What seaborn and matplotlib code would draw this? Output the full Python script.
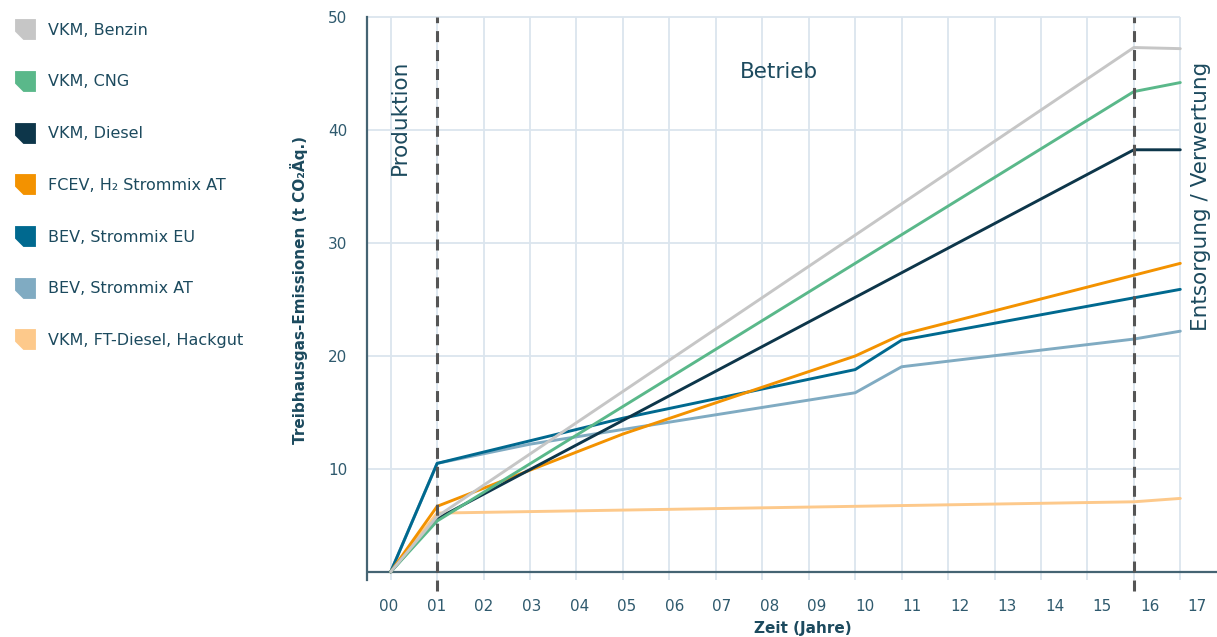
import pandas as pd
import numpy as np
import matplotlib
matplotlib.use("Agg")
import matplotlib.pyplot as plt
from matplotlib.lines import Line2D
import seaborn as sns

# series (legend order) and colours
names = ["VKM, Benzin", "VKM, CNG", "VKM, Diesel", "FCEV, H\u2082 Strommix AT",
         "BEV, Strommix EU", "BEV, Strommix AT", "VKM, FT-Diesel, Hackgut"]
colors = ["#c6c6c6", "#5ab88a", "#0d364a", "#f39200", "#00698f", "#80abc2", "#fdc98b"]

# break points (years, t CO2-eq.)
benzin_x = [0, 1, 16, 17]
benzin_y = [0.9, 5.8, 47.3, 47.2]
cng_x = [0, 1, 16, 17]
cng_y = [0.9, 5.4, 43.4, 44.2]
diesel_x = [0, 1, 16, 17]
diesel_y = [0.9, 5.6, 38.25, 38.25]
fcev_x = [0, 1, 5, 10, 11, 17]
fcev_y = [0.9, 6.7, 13.1, 20.0, 21.9, 28.2]
bev_eu_x = [0, 1, 5, 10, 11, 17]
bev_eu_y = [0.9, 10.5, 14.5, 18.8, 21.4, 25.9]
bev_at_x = [0, 1, 3, 10, 11, 16, 17]
bev_at_y = [0.9, 10.5, 12.2, 16.75, 19.05, 21.5, 22.2]
ft_x = [0, 1, 16, 17]
ft_y = [0.9, 6.1, 7.1, 7.4]

years = list(range(18))
year_labels = ["%02d" % y for y in years]
y_ticks = [10, 20, 30, 40, 50]

xs = [benzin_x, cng_x, diesel_x, fcev_x, bev_eu_x, bev_at_x, ft_x]
ys = [benzin_y, cng_y, diesel_y, fcev_y, bev_eu_y, bev_at_y, ft_y]
frames = []
for n, x, y in zip(names, xs, ys):
    frames.append(pd.DataFrame({"serie": n, "jahr": x, "wert": y}))
df = pd.concat(frames, ignore_index=True)

sns.set_style("white")
plt.rcParams["font.family"] = ["DejaVu Sans"]

txt_c = "#1c4a5e"
tick_c = "#2f5a6e"
grid_c = "#dbe5ee"
spine_c = "#456473"

fig = plt.figure(figsize=(12.17, 6.37), dpi=100)
ax = fig.add_axes([367/1217, 57/637, 850/1217, 563/637])

# grid first
ax.set_xlim(-0.51, 17.79)
ax.set_ylim(0.18, 50)
ax.set_xticks(years)
ax.set_xticklabels([])
ax.grid(axis="x", color=grid_c, lw=1.3, zorder=0)
ax.hlines(y_ticks, -0.51, 17, color=grid_c, lw=1.3, zorder=0, clip_on=False)

sns.lineplot(data=df, x="jahr", y="wert", hue="serie", hue_order=names[::-1],
             palette=dict(zip(names, colors)), estimator=None, sort=False,
             linewidth=2.1, legend=False, ax=ax, zorder=3)

# phase separators
for xv in [1, 16]:
    ax.axvline(xv, ymin=-0.02, color="#555555", lw=2.2, ls=(0, (3.6, 2.6)), zorder=4, clip_on=False)

ax.axhline(0.9, color=spine_c, lw=1.6, zorder=2)
for s in ["top", "right", "bottom"]:
    ax.spines[s].set_visible(False)
ax.spines["left"].set_color(spine_c)
ax.spines["left"].set_linewidth(1.6)

ax.set_yticks(y_ticks)
ax.set_yticklabels([str(v) for v in y_ticks])
ax.tick_params(axis="y", colors=grid_c, length=9, width=1.3, pad=5, labelsize=11, labelcolor=tick_c)
ax.tick_params(axis="x", which="major", length=0)

# tick labels sit a bit wider apart than the grid in the original
label_pos = [(389 + 47.6 * k - 390.7) / 46.5 for k in years]
ax.set_xticks(label_pos, minor=True)
ax.set_xticklabels(year_labels, minor=True)
ax.tick_params(axis="x", which="minor", length=0, pad=14, labelsize=11, labelcolor=tick_c)

ax.set_xlabel("Zeit (Jahre)", fontsize=11, fontweight="bold", color=txt_c)
ax.xaxis.set_label_coords(0.513, -0.072)
ax.set_ylabel("Treibhausgas-Emissionen (t CO\u2082\u00c4q.)", fontsize=11, fontweight="bold", color=txt_c)
ax.yaxis.set_label_coords(-0.07, 0.515)

ax.text(0.2, 41.15, "Produktion", rotation=90, ha="center", va="center", fontsize=15.5, color=txt_c)
ax.text(8.35, 45.1, "Betrieb", ha="center", va="center", fontsize=15.5, color=txt_c)
ax.text(17.45, 34.1, "Entsorgung / Verwertung", rotation=90, ha="center", va="center",
        fontsize=15.5, color=txt_c, clip_on=False)

# legend with cut-corner squares
cut_sq = [(-1, 1), (1, 1), (1, -1), (-0.2, -1), (-1, -0.2), (-1, 1)]
handles = [Line2D([], [], ls="none", marker=cut_sq, markersize=15, markerfacecolor=c,
                  markeredgewidth=0) for c in colors]
fig.legend(handles, names, loc="upper left", bbox_to_anchor=(-0.002, 0.992), frameon=False,
           fontsize=11.5, labelspacing=2.3, handlelength=1.2, handletextpad=0.85,
           borderpad=0.6, labelcolor=txt_c)

fig.savefig("out.png", dpi=100)
